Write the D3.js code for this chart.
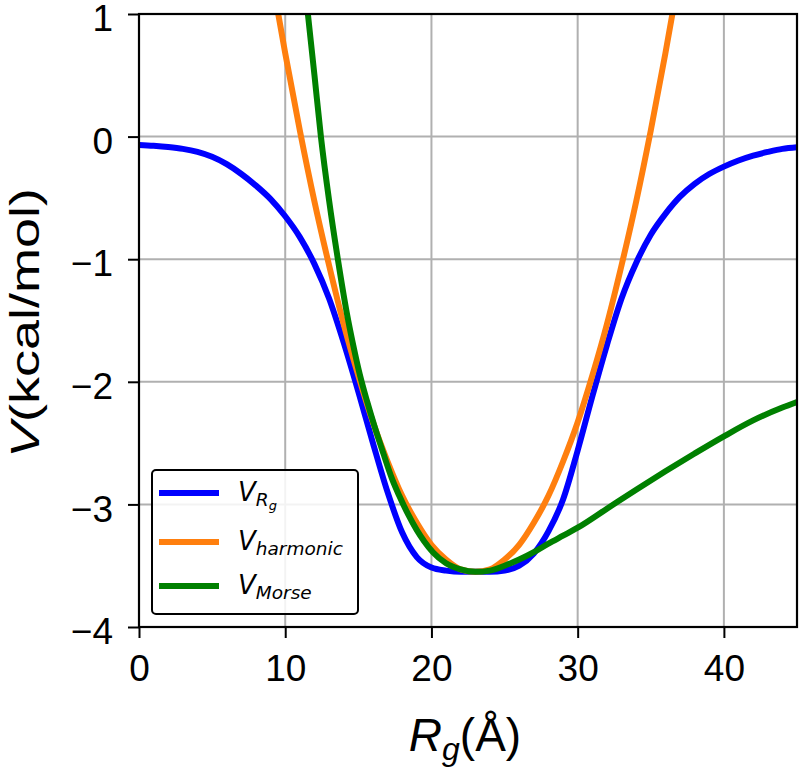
<!DOCTYPE html>
<html>
<head>
<meta charset="utf-8">
<script src="https://cdn.jsdelivr.net/npm/d3@7"></script>
<style>
  html, body { margin: 0; padding: 0; background: #fff; }
  svg { display: block; }
</style>
</head>
<body>
<svg id="chart" width="800" height="768"></svg>
<script>
// ---- Data ----
const rgBlue = [0, 1, 2, 3, 4, 5, 6, 7, 8, 9, 10, 11, 12, 13, 14, 15, 16, 17, 18, 19, 20, 21, 22, 23, 24, 25, 26, 27, 28, 29, 30, 31, 32, 33, 34, 35, 36, 37, 38, 39, 40, 41, 42, 43, 44, 45];
const vRg    = [-0.068, -0.075, -0.085, -0.10, -0.125, -0.165, -0.225, -0.305, -0.40, -0.51, -0.65, -0.82, -1.04, -1.32, -1.68, -2.08, -2.50, -2.90, -3.23, -3.43, -3.515, -3.54, -3.55, -3.55, -3.55, -3.54, -3.50, -3.40, -3.22, -2.96, -2.56, -2.12, -1.70, -1.32, -1.03, -0.80, -0.63, -0.49, -0.385, -0.305, -0.245, -0.195, -0.155, -0.125, -0.10, -0.087];

const rgHarm = [9, 10, 11, 12, 13, 14, 15, 16, 17, 18, 19, 20, 21, 22, 23, 24, 25, 26, 27, 28, 29, 30, 31, 32, 33, 34, 35, 36, 37];
const vHarm  = [1.35, 0.68, 0.05, -0.53, -1.05, -1.53, -1.95, -2.33, -2.65, -2.93, -3.15, -3.33, -3.45, -3.53, -3.55, -3.53, -3.45, -3.33, -3.15, -2.93, -2.65, -2.33, -1.95, -1.53, -1.05, -0.53, 0.05, 0.68, 1.35];

const rgMorse = [11.3, 11.55, 12, 12.44, 13, 13.6, 14.2, 14.65, 15.1, 15.6, 16.1, 16.7, 17.3, 17.8, 18.4, 19, 19.5, 20.1, 21, 22, 23, 24, 25, 26, 27, 28, 29, 30, 32, 34, 36, 38, 40, 42, 44, 45];
const vMorse  = [1.28, 1.0, 0.5, 0.0, -0.52, -1.0, -1.43, -1.70, -1.94, -2.16, -2.36, -2.58, -2.79, -2.93, -3.08, -3.21, -3.30, -3.39, -3.48, -3.53, -3.55, -3.54, -3.50, -3.45, -3.39, -3.32, -3.255, -3.19, -3.035, -2.88, -2.73, -2.585, -2.445, -2.315, -2.21, -2.165];

const xTicks = [0, 10, 20, 30, 40];
const yTicks = [1, 0, -1, -2, -3, -4];
const xDomain = [0, 45];
const yDomain = [-4, 1];

const seriesNames = ["Rg", "harmonic", "Morse"];
const seriesColors = ["#0000ff", "#ff7f0e", "#008000"];

// ---- Layout ----
const svg = d3.select("#chart");
const L = 139, R = 797, T = 14, B = 627;

const x = d3.scaleLinear().domain(xDomain).range([L, R]);
const y = d3.scaleLinear().domain(yDomain).range([B, T]);

// Clip path
svg.append("defs").append("clipPath").attr("id", "plotclip")
  .append("rect").attr("x", L).attr("y", T).attr("width", R - L).attr("height", B - T);

// Grid
const grid = svg.append("g");
grid.selectAll("line.gx").data(xTicks).enter().append("line")
  .attr("x1", d => x(d)).attr("x2", d => x(d)).attr("y1", T).attr("y2", B)
  .attr("stroke", "#b0b0b0").attr("stroke-width", 2);
grid.selectAll("line.gy").data(yTicks).enter().append("line")
  .attr("y1", d => y(d)).attr("y2", d => y(d)).attr("x1", L).attr("x2", R)
  .attr("stroke", "#b0b0b0").attr("stroke-width", 2);

// Lines
const line = d3.line().x(d => x(d[0])).y(d => y(d[1])).curve(d3.curveMonotoneX);
const series = [
  d3.zip(rgBlue, vRg),
  d3.zip(rgHarm, vHarm),
  d3.zip(rgMorse, vMorse)
];
const lines = svg.append("g").attr("clip-path", "url(#plotclip)");
series.forEach((s, i) => {
  lines.append("path").datum(s).attr("d", line)
    .attr("fill", "none").attr("stroke", seriesColors[i])
    .attr("stroke-width", 6).attr("stroke-linejoin", "round");
});

// Axes
const fmt = d => (d < 0 ? "\u2212" + Math.abs(d) : String(d));
const xAxis = d3.axisBottom(x).tickValues(xTicks).tickFormat(fmt).tickSize(11).tickPadding(6);
const yAxis = d3.axisLeft(y).tickValues(yTicks).tickFormat(fmt).tickSize(11).tickPadding(15);

const gx = svg.append("g").attr("transform", `translate(0,${B})`).call(xAxis);
const gy = svg.append("g").attr("transform", `translate(${L},0)`).call(yAxis);
[gx, gy].forEach(g => {
  g.select(".domain").remove();
  g.selectAll(".tick line").attr("stroke", "#000").attr("stroke-width", 2);
  g.selectAll(".tick text").attr("fill", "#000")
    .style("font-family", "'Liberation Sans', Arial, sans-serif").style("font-size", "37px");
});
gx.selectAll(".tick text").attr("dy", "1.0em");
gy.selectAll(".tick text").attr("dy", "0.45em");

// Frame
svg.append("rect").attr("x", L).attr("y", T).attr("width", R - L).attr("height", B - T)
  .attr("fill", "none").attr("stroke", "#000").attr("stroke-width", 2.2);

// Axis labels
const xl = svg.append("text").attr("x", (L + R) / 2 - 3).attr("y", 751)
  .attr("text-anchor", "middle")
  .style("font-family", "'Liberation Sans', Arial, sans-serif").style("font-size", "46px").attr("fill", "#000");
xl.append("tspan").style("font-style", "italic").text("R");
xl.append("tspan").style("font-style", "italic").style("font-size", "32px").attr("dy", 9).text("g");
xl.append("tspan").attr("dy", -9).text("(Å)");

const yl = svg.append("text")
  .attr("transform", "translate(39,323) rotate(-90)")
  .attr("text-anchor", "middle")
  .attr("textLength", 270).attr("lengthAdjust", "spacingAndGlyphs")
  .style("font-family", "'Liberation Sans', Arial, sans-serif").style("font-size", "41px").attr("fill", "#000");
yl.append("tspan").style("font-style", "italic").text("V");
yl.append("tspan").text("(kcal/mol)");

// Legend
const lg = svg.append("g");
lg.append("rect").attr("x", 152).attr("y", 470).attr("width", 206).attr("height", 144)
  .attr("rx", 4).attr("ry", 4)
  .attr("fill", "#fff").attr("fill-opacity", 0.85)
  .attr("stroke", "#000").attr("stroke-width", 2);
const legY = [493, 542, 586];
seriesNames.forEach((name, i) => {
  lg.append("line").attr("x1", 159).attr("x2", 219).attr("y1", legY[i]).attr("y2", legY[i])
    .attr("stroke", seriesColors[i]).attr("stroke-width", 6);
  const t = lg.append("text").attr("x", 238).attr("y", legY[i] + 8)
    .style("font-family", "'DejaVu Sans', sans-serif").style("font-style", "italic")
    .style("font-size", "26px").attr("fill", "#000");
  t.append("tspan").text("V");
  if (name === "Rg") {
    t.append("tspan").style("font-size", "18.5px").attr("dy", 5).text("R");
    t.append("tspan").style("font-size", "13px").attr("dy", 4).text("g");
  } else {
    t.append("tspan").style("font-size", "18.5px").attr("dy", 5).text(name);
  }
});
</script>
</body>
</html>
